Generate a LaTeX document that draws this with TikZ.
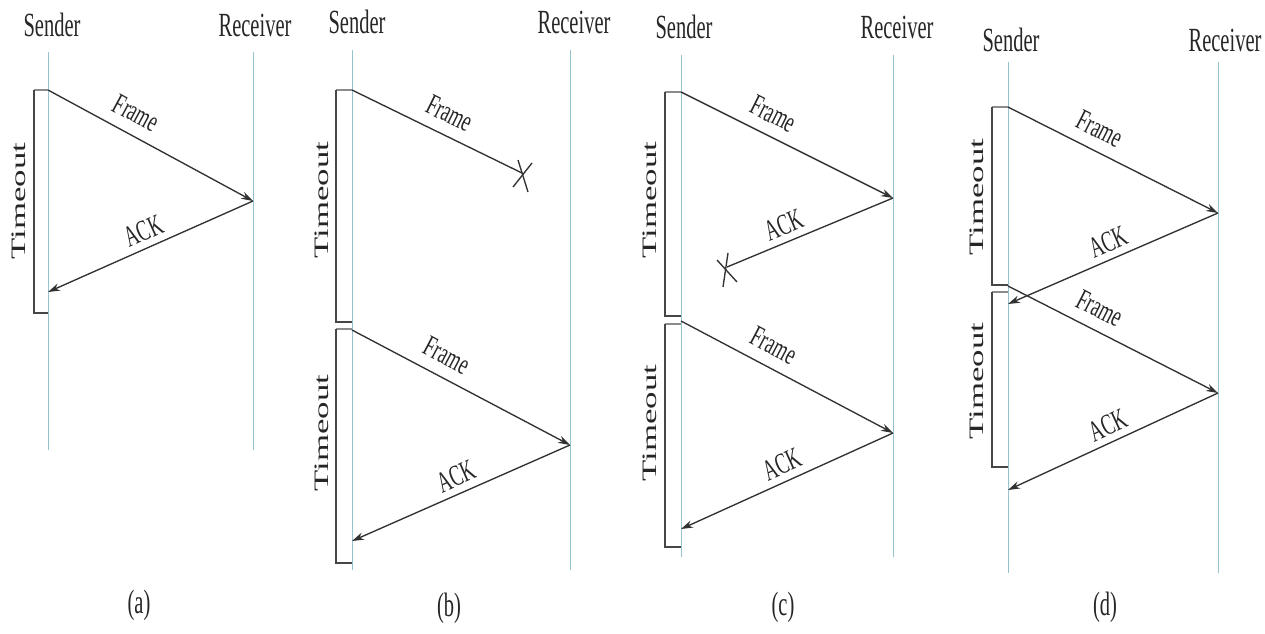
\documentclass[tikz,border=0pt]{standalone}
\usepackage{fontspec}
\setmainfont{Liberation Serif}
\usepackage{graphicx}
\usetikzlibrary{arrows.meta}
\definecolor{life}{RGB}{150,196,206}
\definecolor{msg}{RGB}{50,50,50}
\definecolor{brk}{RGB}{70,70,70}
\definecolor{brklight}{RGB}{140,140,140}
\newcommand{\vstr}[1]{\scalebox{1}[1.65]{#1}}
\newcommand{\hstr}[1]{\scalebox{1.7}[1]{#1}}
\newcommand{\sstr}[1]{\scalebox{1}[1.6]{#1}}
\tikzset{
  lifeline/.style={draw=life, line width=0.9pt},
  msgline/.style={draw=msg, line width=1.35pt, -{Stealth[length=12pt,width=7.5pt]}},
  lostline/.style={draw=msg, line width=1.35pt},
  brkline/.style={draw=brk, line width=1.3pt},
  brktop/.style={draw=brklight, line width=1.7pt},
  headtxt/.style={font=\fontsize{20.5}{20.5}\selectfont, text=black!85, inner sep=0pt},
  msglbl/.style={font=\fontsize{18.5}{18.5}\selectfont, text=black!85, sloped, above, inner sep=2pt},
  frlbl/.style={msglbl, outer sep=10pt},
  acklbl/.style={msglbl, outer sep=5pt},
  tolbl/.style={font=\fontsize{20.5}{20.5}\selectfont, text=black!85, rotate=90, inner sep=0pt},
  caplbl/.style={font=\fontsize{20.5}{20.5}\selectfont, text=black!85, inner sep=0pt}
}
\newcommand{\tbracket}[4]{%
  \draw[brktop] (#2,#3) -- (#1,#3);
  \draw[brkline] (#2,#3) -- (#2,#4) -- (#1,#4);}
\begin{document}
\begin{tikzpicture}[x=1pt,y=-1pt]
\useasboundingbox (0,0) rectangle (1265,633);

%% ---------------- (a)
\node[headtxt] (aS) at (52,25) {\vstr{Sender}};
\node[headtxt] (aR) at (255,25) {\vstr{Receiver}};
\coordinate (aSt) at (48,52);  \coordinate (aSb) at (48,450);
\coordinate (aRt) at (253,52); \coordinate (aRb) at (253,450);
\draw[lifeline] (aSt) -- (aSb);
\draw[lifeline] (aRt) -- (aRb);
\tbracket{48}{34}{90}{313}
\node[tolbl] (aT) at (19,201) {\hstr{Timeout}};
\coordinate (a1) at (48,90);
\coordinate (a2) at (253,201);
\coordinate (a3) at (48,292);
\draw[msgline] (a1) -- (a2) node[frlbl, pos=0.38] {\sstr{Frame}};
\draw[msgline] (a2) -- (a3) node[acklbl, pos=0.5] {\sstr{ACK}};
\node[caplbl] (aC) at (139,605) {\vstr{(a)}};

%% ---------------- (b)
\node[headtxt] (bS) at (357,22) {\vstr{Sender}};
\node[headtxt] (bR) at (574,22) {\vstr{Receiver}};
\coordinate (bSt) at (352,50);  \coordinate (bSb) at (352,570);
\coordinate (bRt) at (570,50);  \coordinate (bRb) at (570,570);
\draw[lifeline] (bSt) -- (bSb);
\draw[lifeline] (bRt) -- (bRb);
\tbracket{352}{336}{90}{322}
\tbracket{352}{336}{329}{563}
\node[tolbl] (bT1) at (322,200) {\hstr{Timeout}};
\node[tolbl] (bT2) at (322,433) {\hstr{Timeout}};
\coordinate (b1) at (352,90);
\coordinate (bX) at (522,173);
\draw[lostline] (b1) -- (bX) node[frlbl, pos=0.52] {\sstr{Frame}};
\draw[lostline] ([shift={(-4,-13)}]bX) -- ([shift={(6,19)}]bX);
\draw[lostline] ([shift={(-9,14)}]bX) -- ([shift={(10,-10)}]bX);
\coordinate (b2) at (352,330);
\coordinate (b3) at (570,445);
\coordinate (b4) at (352,541);
\draw[msgline] (b2) -- (b3) node[frlbl, pos=0.39] {\sstr{Frame}};
\draw[msgline] (b3) -- (b4) node[acklbl, pos=0.49] {\sstr{ACK}};
\node[caplbl] (bC) at (449,608) {\vstr{(b)}};

%% ---------------- (c)
\node[headtxt] (cS) at (684,27) {\vstr{Sender}};
\node[headtxt] (cR) at (897,27) {\vstr{Receiver}};
\coordinate (cSt) at (681,55);  \coordinate (cSb) at (681,557);
\coordinate (cRt) at (893,55);  \coordinate (cRb) at (893,557);
\draw[lifeline] (cSt) -- (cSb);
\draw[lifeline] (cRt) -- (cRb);
\tbracket{681}{665}{92}{316}
\tbracket{681}{665}{324}{547}
\node[tolbl] (cT1) at (650,200) {\hstr{Timeout}};
\node[tolbl] (cT2) at (650,423) {\hstr{Timeout}};
\coordinate (c1) at (681,92);
\coordinate (c2) at (893,198);
\coordinate (cX) at (727,267);
\draw[msgline] (c1) -- (c2) node[frlbl, pos=0.39] {\sstr{Frame}};
\draw[lostline] (c2) -- (cX) node[acklbl, pos=0.62] {\sstr{ACK}};
\draw[lostline] ([shift={(-10,-7)}]cX) -- ([shift={(10,15)}]cX);
\draw[lostline] ([shift={(-4,20)}]cX) -- ([shift={(1,-14)}]cX);
\coordinate (c3) at (681,321);
\coordinate (c4) at (893,433);
\coordinate (c5) at (681,529);
\draw[msgline] (c3) -- (c4) node[frlbl, pos=0.39] {\sstr{Frame}};
\draw[msgline] (c4) -- (c5) node[acklbl, pos=0.49] {\sstr{ACK}};
\node[caplbl] (cC) at (783,607) {\vstr{(c)}};

%% ---------------- (d)
\node[headtxt] (dS) at (1011,40) {\vstr{Sender}};
\node[headtxt] (dR) at (1225,40) {\vstr{Receiver}};
\coordinate (dSt) at (1008,62);  \coordinate (dSb) at (1008,573);
\coordinate (dRt) at (1218,62);  \coordinate (dRb) at (1218,573);
\draw[lifeline] (dSt) -- (dSb);
\draw[lifeline] (dRt) -- (dRb);
\tbracket{1008}{992}{107}{285}
\tbracket{1008}{992}{292}{467}
\node[tolbl] (dT1) at (977,197) {\hstr{Timeout}};
\node[tolbl] (dT2) at (977,381) {\hstr{Timeout}};
\coordinate (d1) at (1008,107);
\coordinate (d2) at (1218,213);
\coordinate (d3) at (1008,304);
\coordinate (d4) at (1008,286);
\coordinate (d5) at (1218,393);
\coordinate (d6) at (1008,490);
\draw[msgline] (d1) -- (d2) node[frlbl, pos=0.39] {\sstr{Frame}};
\draw[msgline] (d2) -- (d3) node[acklbl, pos=0.49] {\sstr{ACK}};
\draw[msgline] (d4) -- (d5) node[frlbl, pos=0.39] {\sstr{Frame}};
\draw[msgline] (d5) -- (d6) node[acklbl, pos=0.49] {\sstr{ACK}};
\node[caplbl] (dC) at (1105,607) {\vstr{(d)}};
\end{tikzpicture}
\end{document}
